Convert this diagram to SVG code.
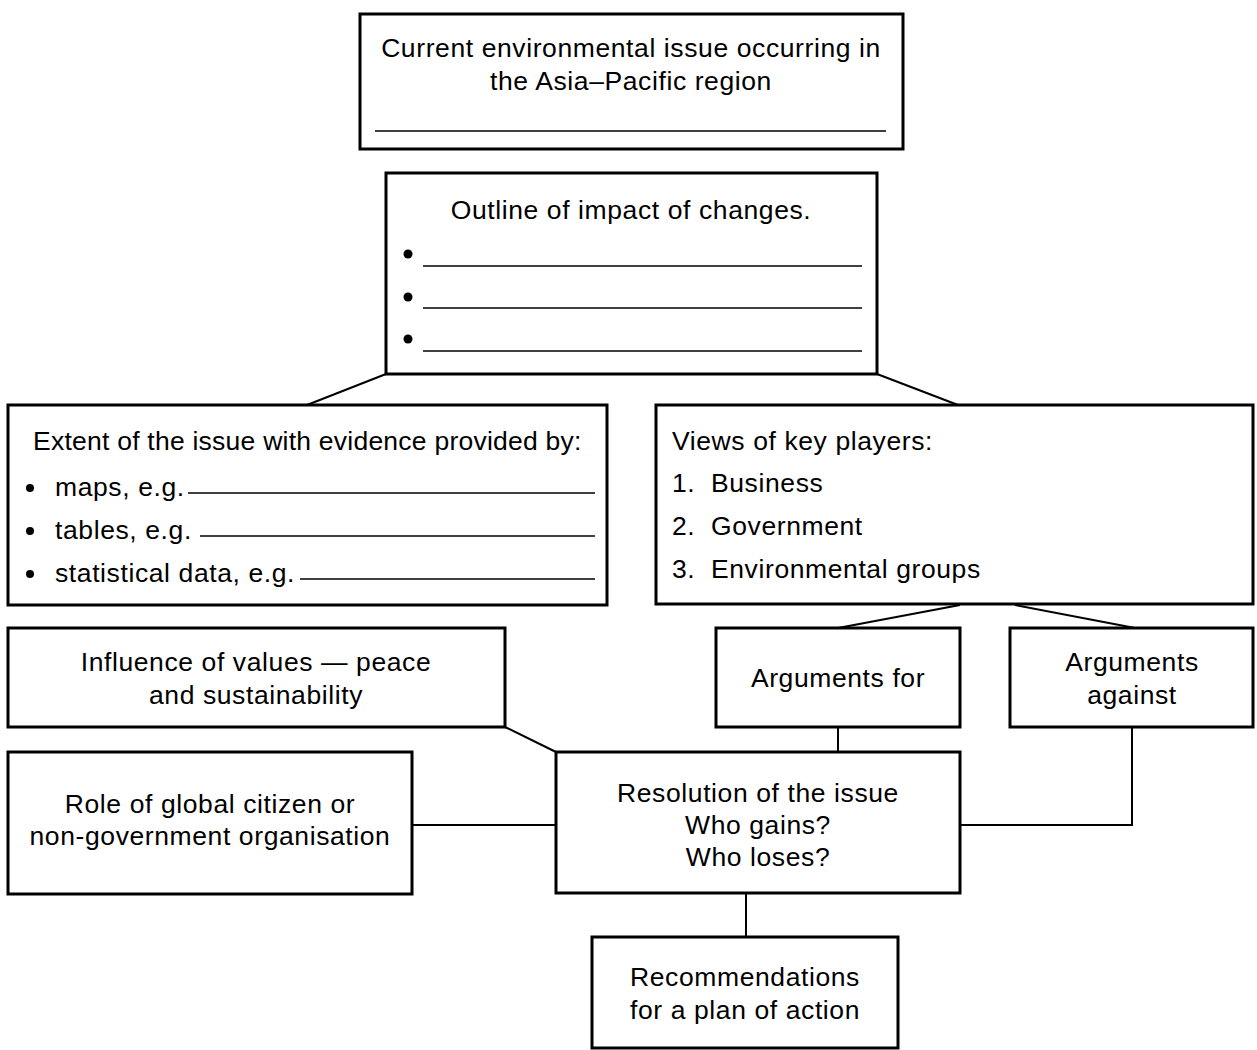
<svg xmlns="http://www.w3.org/2000/svg" width="1257" height="1050" viewBox="0 0 1257 1050">
<style>
.box{fill:#fff;stroke:#000;stroke-width:3}
.t{font-family:"Liberation Sans",Arial,sans-serif;font-size:26.5px;letter-spacing:0.6px;fill:#000}
.c{text-anchor:middle}
.ul{stroke:#000;stroke-width:1.6}
.con{stroke:#000;stroke-width:2;fill:none}
</style>
<rect width="1257" height="1050" fill="#fff"/>
<g id="connectors">
<line class="con" x1="386" y1="374" x2="307" y2="405"/>
<line class="con" x1="877" y1="374" x2="958" y2="405"/>
<line class="con" x1="960" y1="605" x2="838" y2="628"/>
<line class="con" x1="1015" y1="605" x2="1135" y2="628"/>
<line class="con" x1="505" y1="727" x2="556" y2="752"/>
<line class="con" x1="412" y1="825" x2="556" y2="825"/>
<line class="con" x1="838" y1="727" x2="838" y2="752"/>
<polyline class="con" points="960,825 1132,825 1132,727"/>
<line class="con" x1="746" y1="893" x2="746" y2="937"/>
</g>
<g id="n-current">
<rect class="box" x="360" y="14" width="543" height="135"/>
<text class="t c" x="631" y="57">Current environmental issue occurring in</text>
<text class="t c" x="631" y="90">the Asia–Pacific region</text>
<line class="ul" x1="375" y1="131" x2="886" y2="131"/>
</g>
<g id="n-outline">
<rect class="box" x="386" y="173" width="491" height="201"/>
<text class="t c" x="631" y="219">Outline of impact of changes.</text>
<circle cx="408" cy="254" r="4.5"/>
<circle cx="408" cy="297" r="4.5"/>
<circle cx="408" cy="339" r="4.5"/>
<line class="ul" x1="423" y1="266" x2="862" y2="266"/>
<line class="ul" x1="423" y1="308" x2="862" y2="308"/>
<line class="ul" x1="423" y1="351" x2="862" y2="351"/>
</g>
<g id="n-extent">
<rect class="box" x="8" y="405" width="599" height="200"/>
<text class="t" x="33" y="450" textLength="549">Extent of the issue with evidence provided by:</text>
<circle cx="30" cy="488" r="4"/>
<circle cx="30" cy="531" r="4"/>
<circle cx="30" cy="574" r="4"/>
<text class="t" x="55" y="496">maps, e.g.</text>
<text class="t" x="55" y="539">tables, e.g.</text>
<text class="t" x="55" y="582">statistical data, e.g.</text>
<line class="ul" x1="188" y1="493" x2="595" y2="493"/>
<line class="ul" x1="200" y1="536" x2="595" y2="536"/>
<line class="ul" x1="300" y1="579" x2="595" y2="579"/>
</g>
<g id="n-views">
<rect class="box" x="656" y="405" width="597" height="199"/>
<text class="t" x="672" y="450">Views of key players:</text>
<text class="t" x="672" y="492">1.</text><text class="t" x="711" y="492">Business</text>
<text class="t" x="672" y="535">2.</text><text class="t" x="711" y="535">Government</text>
<text class="t" x="672" y="578">3.</text><text class="t" x="711" y="578">Environmental groups</text>
</g>
<g id="n-for">
<rect class="box" x="716" y="628" width="244" height="99"/>
<text class="t c" x="838" y="687">Arguments for</text>
</g>
<g id="n-against">
<rect class="box" x="1010" y="628" width="243" height="99"/>
<text class="t c" x="1132" y="671">Arguments</text>
<text class="t c" x="1132" y="704">against</text>
</g>
<g id="n-influence">
<rect class="box" x="8" y="628" width="497" height="99"/>
<text class="t c" x="256" y="671">Influence of values — peace</text>
<text class="t c" x="256" y="704">and sustainability</text>
</g>
<g id="n-role">
<rect class="box" x="8" y="752" width="404" height="142"/>
<text class="t c" x="210" y="813">Role of global citizen or</text>
<text class="t c" x="210" y="845">non-government organisation</text>
</g>
<g id="n-resolution">
<rect class="box" x="556" y="752" width="404" height="141"/>
<text class="t c" x="758" y="802">Resolution of the issue</text>
<text class="t c" x="758" y="834">Who gains?</text>
<text class="t c" x="758" y="866">Who loses?</text>
</g>
<g id="n-recommend">
<rect class="box" x="592" y="937" width="306" height="111"/>
<text class="t c" x="745" y="986">Recommendations</text>
<text class="t c" x="745" y="1019">for a plan of action</text>
</g>
</svg>
